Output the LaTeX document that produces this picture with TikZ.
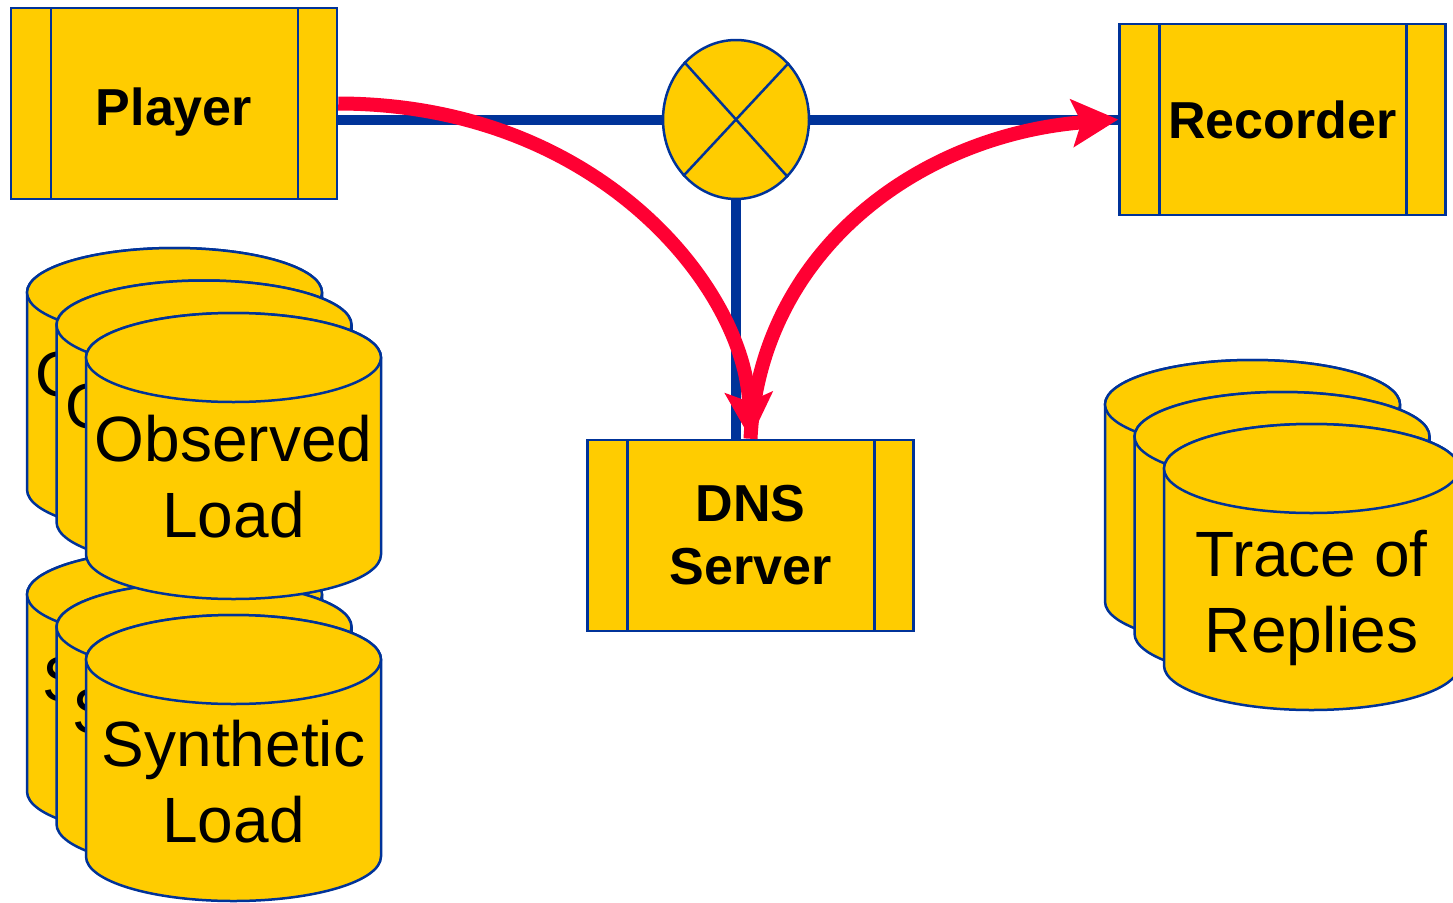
\documentclass[tikz,border=0pt]{standalone}
\usepackage{fontspec}
\setmainfont{Liberation Sans}
\usetikzlibrary{shapes.geometric,arrows.meta,backgrounds}
\definecolor{yel}{HTML}{FFCC00}
\definecolor{bord}{HTML}{003399}
\definecolor{redarrow}{HTML}{FF0033}
\newcommand\drumbody[2]{%
  \filldraw[drumline] (#1-147.5,#2) -- (#1-147.5,#2+197)
     arc[start angle=180,end angle=360,x radius=147.5pt,y radius=44.5pt]
     -- (#1+147.5,#2)
     arc[start angle=0,end angle=180,x radius=147.5pt,y radius=44.5pt] -- cycle;
  \draw[drumline] (#1,#2) ellipse[x radius=147.5pt,y radius=44.5pt];
}
\newcommand\drumpiece[5]{%
  \drumbody{#1}{#2}
  \node[drumtext,anchor=north] (#3) at (#1,#2+#5) {#4};
}
\begin{document}
\begin{tikzpicture}[x=1pt,y=-1pt,
  procbox/.style={draw=bord, fill=yel, line width=2.5pt, minimum width=326pt,
    minimum height=191pt, inner sep=0pt, align=center,
    font=\fontsize{52}{63}\selectfont\bfseries,
    path picture={\draw[bord,line width=2.5pt]
      ([xshift=40pt]path picture bounding box.north west) -- ([xshift=40pt]path picture bounding box.south west)
      ([xshift=-39pt]path picture bounding box.north east) -- ([xshift=-39pt]path picture bounding box.south east);}},
  mixer/.style={shape=ellipse, draw=bord, fill=yel, line width=2.5pt,
    minimum width=146pt, minimum height=159pt, inner sep=0pt},
  wire/.style={draw=bord, line width=10pt},
  crossline/.style={draw=bord, line width=2.5pt},
  redarr/.style={draw=redarrow, line width=14pt, -{Stealth[length=46pt,width=47pt,inset=9pt]}},
  drumline/.style={draw=bord, fill=yel, line width=2.5pt},
  drumtext/.style={font=\fontsize{64}{76}\selectfont, align=center, inner sep=0pt}]
\useasboundingbox (0,0) rectangle (1453,902);

% boxes
\node[procbox, text height=43pt, text depth=0pt] (player) at (174,103.5) {Player};
\node[procbox] (recorder) at (1282.5,119.5) {Recorder};
\node[procbox] (dns) at (750.5,535.5) {DNS\\Server};

% mixer
\node[mixer] (mix) at (736,119.5) {};
\draw[crossline] (mix.47.4) -- (mix.227.4);
\draw[crossline] (mix.132.6) -- (mix.312.6);

% wires behind
\begin{scope}[on background layer]
  \draw[wire] (mix.center -| player.east) -- (mix.center -| recorder.west);
  \draw[wire] (mix.south) -- (mix.south |- dns.north);
\end{scope}

% red arrows
\draw[redarr] (player.east) .. controls (600,104) and (745,290) .. (dns.north);
\draw[redarr] (dns.north) .. controls (760,250) and (920,135) .. (recorder.west);

% synthetic load stack (behind the observed stack)
\drumpiece{174.5}{594.5}{synA}{Synthetic\\Load}{60}
\drumpiece{204}{627}{synB}{Synthetic\\Load}{60}
\drumpiece{233.5}{659.5}{synC}{Synthetic\\Load}{60}

% observed load stack
\drumpiece{174.5}{292.5}{obsA}{Observed\\Load}{57}
\drumpiece{204}{325}{obsB}{Observed\\Load}{57}
\drumpiece{233.5}{357.5}{obsC}{Observed\\Load}{57}

% trace of replies stack
\drumbody{1252.5}{404.5}
\drumbody{1282}{436.5}
\drumpiece{1311.5}{468.5}{trace}{Trace of\\Replies}{61}
\end{tikzpicture}
\end{document}
